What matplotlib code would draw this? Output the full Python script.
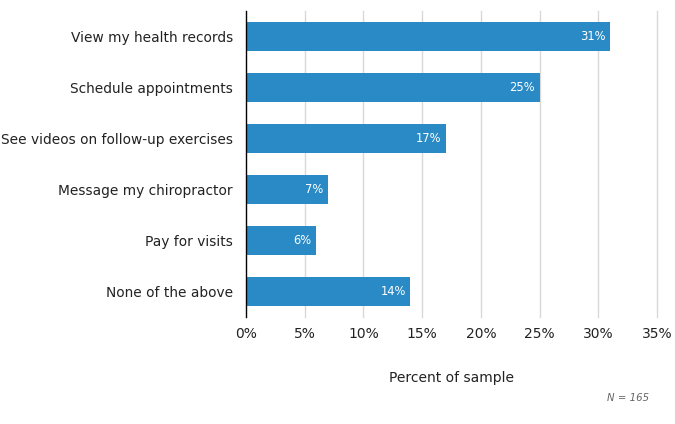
import matplotlib
matplotlib.use('Agg')
import matplotlib.pyplot as plt

plt.rcParams.update({'font.family': 'DejaVu Sans', 'font.size': 10})

categories = ['View my health records', 'Schedule appointments',
              'See videos on follow-up exercises', 'Message my chiropractor',
              'Pay for visits', 'None of the above']
values = [31, 25, 17, 7, 6, 14]
ticks = [0, 5, 10, 15, 20, 25, 30, 35]

fig = plt.figure(figsize=(6.75, 4.24), dpi=100)
ax = fig.add_axes([0.3644, 0.2524, 0.6089, 0.7216])

ypos = list(range(len(categories)))
ax.barh(ypos, values, height=0.55, color='#2a8ac6', zorder=3)
ax.set_ylim(len(categories) - 0.5, -0.5)
ax.set_xlim(0, 35)
ax.set_yticks(ypos)
ax.set_yticklabels(categories, fontsize=9.9, color='#222222')
ax.set_xticks(ticks)
ax.set_xticklabels([f'{t}%' for t in ticks], fontsize=10, color='#222222')
ax.tick_params(axis='x', length=0, pad=7)
ax.tick_params(axis='y', length=0, pad=9.5)
for t in ticks[1:]:
    ax.axvline(t, color='#d9d9d9', lw=1, zorder=1, clip_on=False)
for s in ['top', 'right', 'bottom']:
    ax.spines[s].set_visible(False)
ax.spines['left'].set_color('black')
ax.spines['left'].set_linewidth(1)
ax.spines['left'].set_zorder(4)

for y, v in zip(ypos, values):
    ax.text(v - 0.4, y, f'{v}%', ha='right', va='center', color='white', fontsize=8.3, zorder=5)

ax.set_xlabel('Percent of sample', fontsize=10, color='#222222', labelpad=22)
fig.text(0.962, 0.061, 'N = 165', ha='right', va='center', fontsize=7.3, style='italic', color='#666666')

fig.savefig('out.png', dpi=100)
